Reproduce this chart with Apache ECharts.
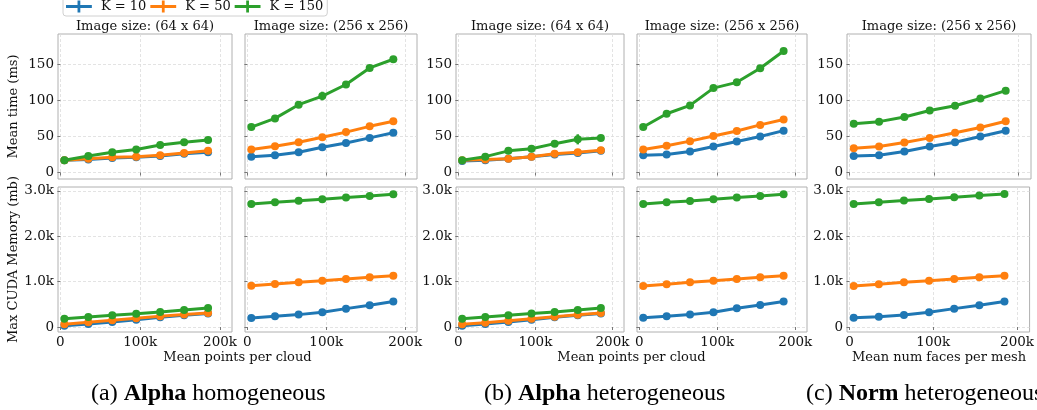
<!DOCTYPE html>
<html><head><meta charset="utf-8">
<script src="https://cdn.jsdelivr.net/npm/echarts@6/dist/echarts.min.js"></script>
<style>html,body{margin:0;padding:0;background:#fff}#c{width:1037px;height:410px}</style>
</head><body><div id="c"></div>
<script>
// ---------- data ----------
const seriesNames = ['K = 10', 'K = 50', 'K = 150'];
const xValues = [5000, 35000, 65000, 95000, 125000, 155000, 185000];
const xTicks = [0, 100000, 200000];
const timeTicks = [0, 50, 100, 150];
const memTicks = [0, 1000, 2000, 3000];
const panelTitles = ['Image size: (64 x 64)', 'Image size: (256 x 256)', 'Image size: (64 x 64)', 'Image size: (256 x 256)', 'Image size: (256 x 256)'];
const xAxisNames = ['Mean points per cloud', 'Mean points per cloud', 'Mean num faces per mesh'];
const yAxisNames = ['Mean time (ms)', 'Max CUDA Memory (mb)'];

// Mean time (ms)
const timeA64K10  = [17, 18, 20, 21, 23, 26, 28];
const timeA64K50  = [17, 19, 21, 22, 24, 27, 30];
const timeA64K150 = [17, 23, 28, 32, 38, 42, 45];
const timeA256K10  = [22, 24, 28, 35, 41, 48, 55];
const timeA256K50  = [32, 36.5, 42, 49, 56, 64, 71];
const timeA256K150 = [63, 75, 94, 106, 122, 145, 157];
const timeB64K10  = [16, 17, 19, 22, 25, 27, 30];
const timeB64K50  = [17, 18, 19, 22, 26, 28, 31];
const timeB64K150 = [17, 22, 30, 33, 40, 46, 48];
const timeB256K10  = [24, 25, 29, 36, 43, 50, 58];
const timeB256K50  = [32, 37, 43.5, 50.5, 57.5, 66, 73.5];
const timeB256K150 = [63, 81.5, 93, 117, 125, 144.5, 168.5];
const timeC256K10  = [23, 24, 29, 36, 42, 50, 58];
const timeC256K50  = [33.5, 36, 41.5, 48, 55, 62.5, 71];
const timeC256K150 = [67.5, 70.5, 77, 86, 92.5, 102.5, 113.5];

// Max CUDA memory (mb)
const memA64K10  = [30, 66, 110, 162, 214, 258, 295];
const memA64K50  = [60, 103, 147, 192, 236, 273, 310];
const memA64K150 = [184, 221, 258, 290, 332, 376, 420];
const memA256K10  = [200, 236, 273, 324, 405, 480, 560];
const memA256K50  = [910, 947, 984, 1020, 1057, 1094, 1131];
const memA256K150 = [2712, 2749, 2780, 2815, 2852, 2889, 2926];
const memB64K10  = [30, 66, 110, 162, 214, 258, 300];
const memB64K50  = [59, 96, 140, 184, 228, 268, 310];
const memB64K150 = [184, 221, 258, 295, 332, 376, 420];
const memB256K10  = [206, 236, 273, 324, 412, 486, 560];
const memB256K50  = [906, 943, 984, 1020, 1057, 1094, 1131];
const memB256K150 = [2712, 2749, 2778, 2815, 2852, 2889, 2926];
const memC256K10  = [206, 228, 265, 324, 405, 479, 560];
const memC256K50  = [906, 943, 984, 1020, 1057, 1094, 1131];
const memC256K150 = [2712, 2749, 2786, 2823, 2860, 2896, 2933];

// error bars [x, low, high] (K = 150)
const errA256K150 = [[95000, 100, 112]];
const errB64K150 = [[155000, 39, 53]];

// ---------- layout ----------
const colors = ['#1f77b4', '#ff7f0e', '#2ca02c'];
const cols = [{l: 58, w: 174}, {l: 245, w: 172}, {l: 456, w: 168}, {l: 637, w: 170}, {l: 847, w: 184}];
const rows = [{t: 34, h: 145}, {t: 187, h: 145}];
const serif = 'DejaVu Serif';

const timeData = [
  [timeA64K10, timeA64K50, timeA64K150],
  [timeA256K10, timeA256K50, timeA256K150],
  [timeB64K10, timeB64K50, timeB64K150],
  [timeB256K10, timeB256K50, timeB256K150],
  [timeC256K10, timeC256K50, timeC256K150]
];
const memData = [
  [memA64K10, memA64K50, memA64K150],
  [memA256K10, memA256K50, memA256K150],
  [memB64K10, memB64K50, memB64K150],
  [memB256K10, memB256K50, memB256K150],
  [memC256K10, memC256K50, memC256K150]
];

const grids = [], xAxes = [], yAxes = [], series = [];
const xFmt = v => v === 0 ? '0' : (v / 1000) + 'k';
const memFmt = v => v === 0 ? '0' : (v / 1000).toFixed(1) + 'k';

for (let r = 0; r < 2; r++) {
  for (let p = 0; p < 5; p++) {
    const gi = r * 5 + p;
    grids.push({left: cols[p].l, width: cols[p].w, top: rows[r].t, height: rows[r].h,
      show: true, borderColor: '#b0b0b0', borderWidth: 1, backgroundColor: 'transparent'});
    xAxes.push({type: 'value', gridIndex: gi, min: -3000, max: 215000,
      axisLine: {show: false},
      axisTick: {show: true, customValues: xTicks, length: 3, lineStyle: {color: '#777'}},
      axisLabel: {show: r === 1, customValues: xTicks, formatter: xFmt, fontFamily: serif, fontSize: 13.5, color: '#111', margin: 3},
      splitLine: {show: true, lineStyle: {type: [3, 2], color: '#dcdcdc', width: 0.8}}});
    const ticks = r === 0 ? timeTicks : memTicks;
    yAxes.push({type: 'value', gridIndex: gi,
      min: r === 0 ? -9 : -110, max: r === 0 ? 192 : 3085,
      axisLine: {show: false},
      axisTick: {show: true, customValues: ticks, length: 3, lineStyle: {color: '#777'}},
      axisLabel: {show: p % 2 === 0, customValues: ticks, formatter: r === 0 ? (v => String(v)) : memFmt,
        fontFamily: serif, fontSize: 13.5, color: '#111', margin: 4},
      splitLine: {show: true, lineStyle: {type: [3, 2], color: '#dcdcdc', width: 0.8}}});
    const sets = r === 0 ? timeData[p] : memData[p];
    for (let k = 0; k < 3; k++) {
      series.push({type: 'line', name: seriesNames[k], xAxisIndex: gi, yAxisIndex: gi,
        data: xValues.map((x, i) => [x, sets[k][i]]),
        symbol: 'circle', symbolSize: 8, showSymbol: true,
        itemStyle: {color: colors[k]}, lineStyle: {color: colors[k], width: 3},
        z: 2 + k, animation: false, emphasis: {disabled: true}});
    }
  }
}
function errSeries(data, gi) {
  return {type: 'custom', name: 'err' + gi, xAxisIndex: gi, yAxisIndex: gi, data: data, z: 6, animation: false,
    renderItem: (params, api) => {
      const a = api.coord([api.value(0), api.value(1)]);
      const b = api.coord([api.value(0), api.value(2)]);
      return {type: 'line', shape: {x1: a[0], y1: a[1], x2: b[0], y2: b[1]}, style: {stroke: colors[2], lineWidth: 2.5}};
    }};
}
series.push(errSeries(errA256K150, 1));
series.push(errSeries(errB64K150, 2));

const graphic = [];
panelTitles.forEach((t, p) => {
  graphic.push({type: 'text', x: cols[p].l + cols[p].w / 2, y: 27,
    style: {text: t, fontFamily: serif, fontSize: 13, fill: '#111', textAlign: 'center', textVerticalAlign: 'middle'}});
});
[[cols[0], cols[1]], [cols[2], cols[3]], [cols[4], cols[4]]].forEach((pair, i) => {
  const cx = (pair[0].l + pair[1].l + pair[1].w) / 2;
  graphic.push({type: 'text', x: cx, y: 358,
    style: {text: xAxisNames[i], fontFamily: serif, fontSize: 13, fill: '#111', textAlign: 'center', textVerticalAlign: 'middle'}});
});
yAxisNames.forEach((t, r) => {
  graphic.push({type: 'text', x: 14, y: rows[r].t + rows[r].h / 2, rotation: Math.PI / 2,
    style: {text: t, fontFamily: serif, fontSize: 13, fill: '#111', textAlign: 'center', textVerticalAlign: 'middle'}});
});
const captions = [
  {x: 91, pre: '(a) ', bold: 'Alpha', post: ' homogeneous'},
  {x: 484, pre: '(b) ', bold: 'Alpha', post: ' heterogeneous'},
  {x: 806, pre: '(c) ', bold: 'Norm', post: ' heterogeneous'}
];
captions.forEach(c => {
  graphic.push({type: 'text', x: c.x, y: 394,
    style: {text: '{n|' + c.pre + '}{b|' + c.bold + '}{n|' + c.post + '}', textVerticalAlign: 'middle',
      rich: {n: {fontFamily: 'Liberation Serif', fontSize: 24, fill: '#000'},
             b: {fontFamily: 'Liberation Serif', fontSize: 24, fontWeight: 'bold', fill: '#000'}}}});
});

const chart = echarts.init(document.getElementById('c'), null, {renderer: 'canvas'});
chart.setOption({
  animation: false,
  backgroundColor: '#fff',
  legend: {data: seriesNames, left: 63, top: -3, itemWidth: 28, itemHeight: 12, itemGap: 4,
    icon: 'path://M0,5H28V8H0Z M12.5,0H15.5V13H12.5Z',
    textStyle: {fontFamily: serif, fontSize: 13, color: '#111', padding: [0, 0, 0, 3]},
    borderColor: '#d0d0d0', borderWidth: 1, borderRadius: 3, padding: [3, 4, 3, 3], selectedMode: false},
  grid: grids, xAxis: xAxes, yAxis: yAxes, series: series, graphic: graphic
});
</script></body></html>
